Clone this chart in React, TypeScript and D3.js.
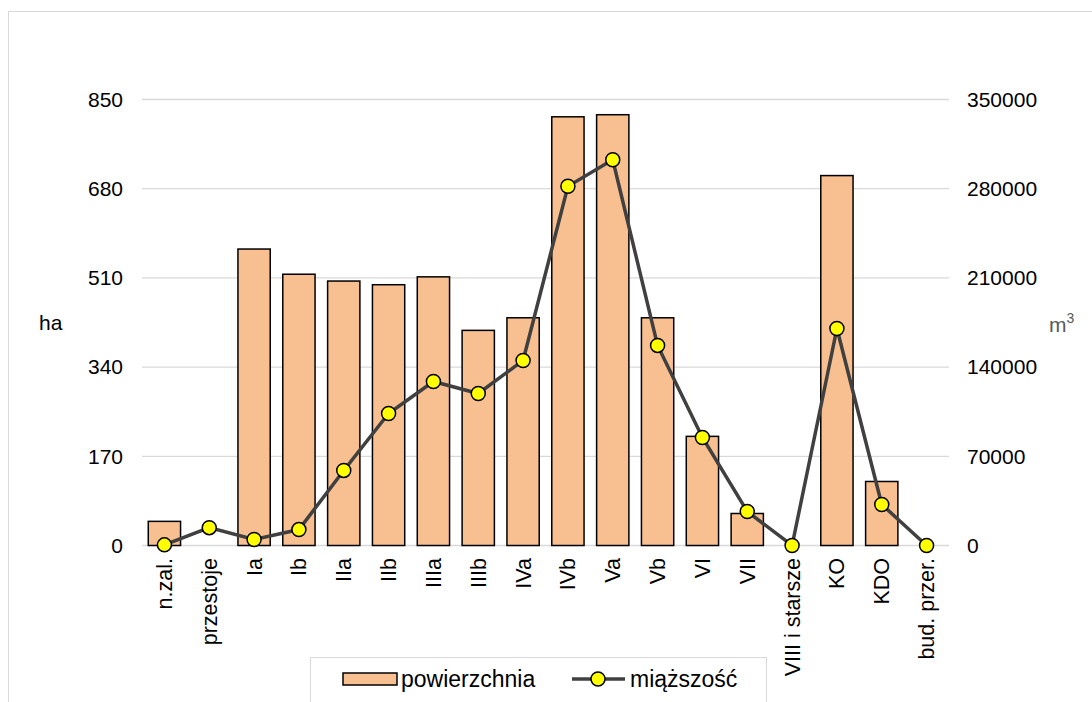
import React from "react";
import * as d3 from "d3";

const categories = ["n.zal.", "przestoje", "Ia", "Ib", "IIa", "IIb", "IIIa", "IIIb", "IVa", "IVb", "Va", "Vb", "VI", "VII", "VIII i starsze", "KO", "KDO", "bud. przer."];
const powierzchnia = [46, 0, 565, 517, 504, 497, 512, 410, 434, 817, 821, 434, 208, 61, 0, 705, 122, 0];
const miazszosc = [500, 14000, 4700, 12500, 58900, 103600, 128700, 119300, 145200, 281900, 302700, 157000, 84750, 26700, 0, 170300, 32200, 0];
const leftTicks = [0, 170, 340, 510, 680, 850];
const rightTicks = [0, 70000, 140000, 210000, 280000, 350000];

const W = 1092, H = 702;
const plot = { left: 142, right: 949, top: 99.5, bottom: 545.5 };
const font = "Liberation Sans, Arial, sans-serif";

export default function App() {
  const x = d3.scaleBand<string>().domain(categories).range([plot.left, plot.right]).paddingInner(0.28).paddingOuter(0.14);
  const yL = d3.scaleLinear().domain([0, 850]).range([plot.bottom, plot.top]);
  const yR = d3.scaleLinear().domain([0, 350000]).range([plot.bottom, plot.top]);
  const cx = (c: string) => (x(c) as number) + x.bandwidth() / 2;
  const line = d3.line<number>().x((_, i) => cx(categories[i])).y((d) => yR(d));
  const midY = (plot.top + plot.bottom) / 2;

  return (
    <svg width={W} height={H} style={{ position: "absolute", left: 0, top: 0, fontFamily: font }}>
      <rect x={0} y={0} width={W} height={H} fill="#fff" />
      <rect x={8.5} y={11.5} width={1200} height={800} fill="none" stroke="#d9d9d9" strokeWidth={1} />
      {leftTicks.map((t) => (
        <g key={t}>
          <line x1={plot.left} x2={plot.right} y1={yL(t)} y2={yL(t)} stroke="#d9d9d9" strokeWidth={1.3} />
          <text x={123} y={yL(t)} dy="0.35em" textAnchor="end" fontSize={21} fill="#000">{t}</text>
        </g>
      ))}
      {rightTicks.map((t) => (
        <text key={t} x={967} y={yR(t)} dy="0.35em" textAnchor="start" fontSize={21} fill="#000">{t}</text>
      ))}
      <text x={39} y={midY} dy="0.35em" fontSize={21} fill="#000">ha</text>
      <text x={1049} y={midY + 2} dy="0.35em" fontSize={21} fill="#595959">m<tspan dy={-9} fontSize={14}>3</tspan></text>
      {categories.map((c, i) =>
        powierzchnia[i] > 0 ? (
          <rect key={c} x={x(c)} y={yL(powierzchnia[i])} width={x.bandwidth()} height={yL(0) - yL(powierzchnia[i])} fill="#f8c090" stroke="#000" strokeWidth={1.5} />
        ) : null
      )}
      <path d={line(miazszosc) || ""} fill="none" stroke="#404040" strokeWidth={3.5} />
      {miazszosc.map((v, i) => (
        <circle key={i} cx={cx(categories[i])} cy={yR(v)} r={7} fill="#ffff00" stroke="#000" strokeWidth={1.5} />
      ))}
      {categories.map((c) => (
        <text key={c} transform={`translate(${cx(c)},558) rotate(-90)`} dy="0.35em" textAnchor="end" fontSize={21.5} fill="#000">{c}</text>
      ))}
      <rect x={310.5} y={657.5} width={456} height={50} fill="#fff" stroke="#d9d9d9" strokeWidth={1} />
      <rect x={343} y={673} width={54} height={12} fill="#f8c090" stroke="#000" strokeWidth={1.5} />
      <text x={401} y={679} dy="0.35em" fontSize={23} fill="#000">powierzchnia</text>
      <line x1={572} x2={625} y1={679} y2={679} stroke="#404040" strokeWidth={3.5} />
      <circle cx={598} cy={679} r={7} fill="#ffff00" stroke="#000" strokeWidth={1.5} />
      <text x={630} y={679} dy="0.35em" fontSize={23} fill="#000">miąższość</text>
    </svg>
  );
}
